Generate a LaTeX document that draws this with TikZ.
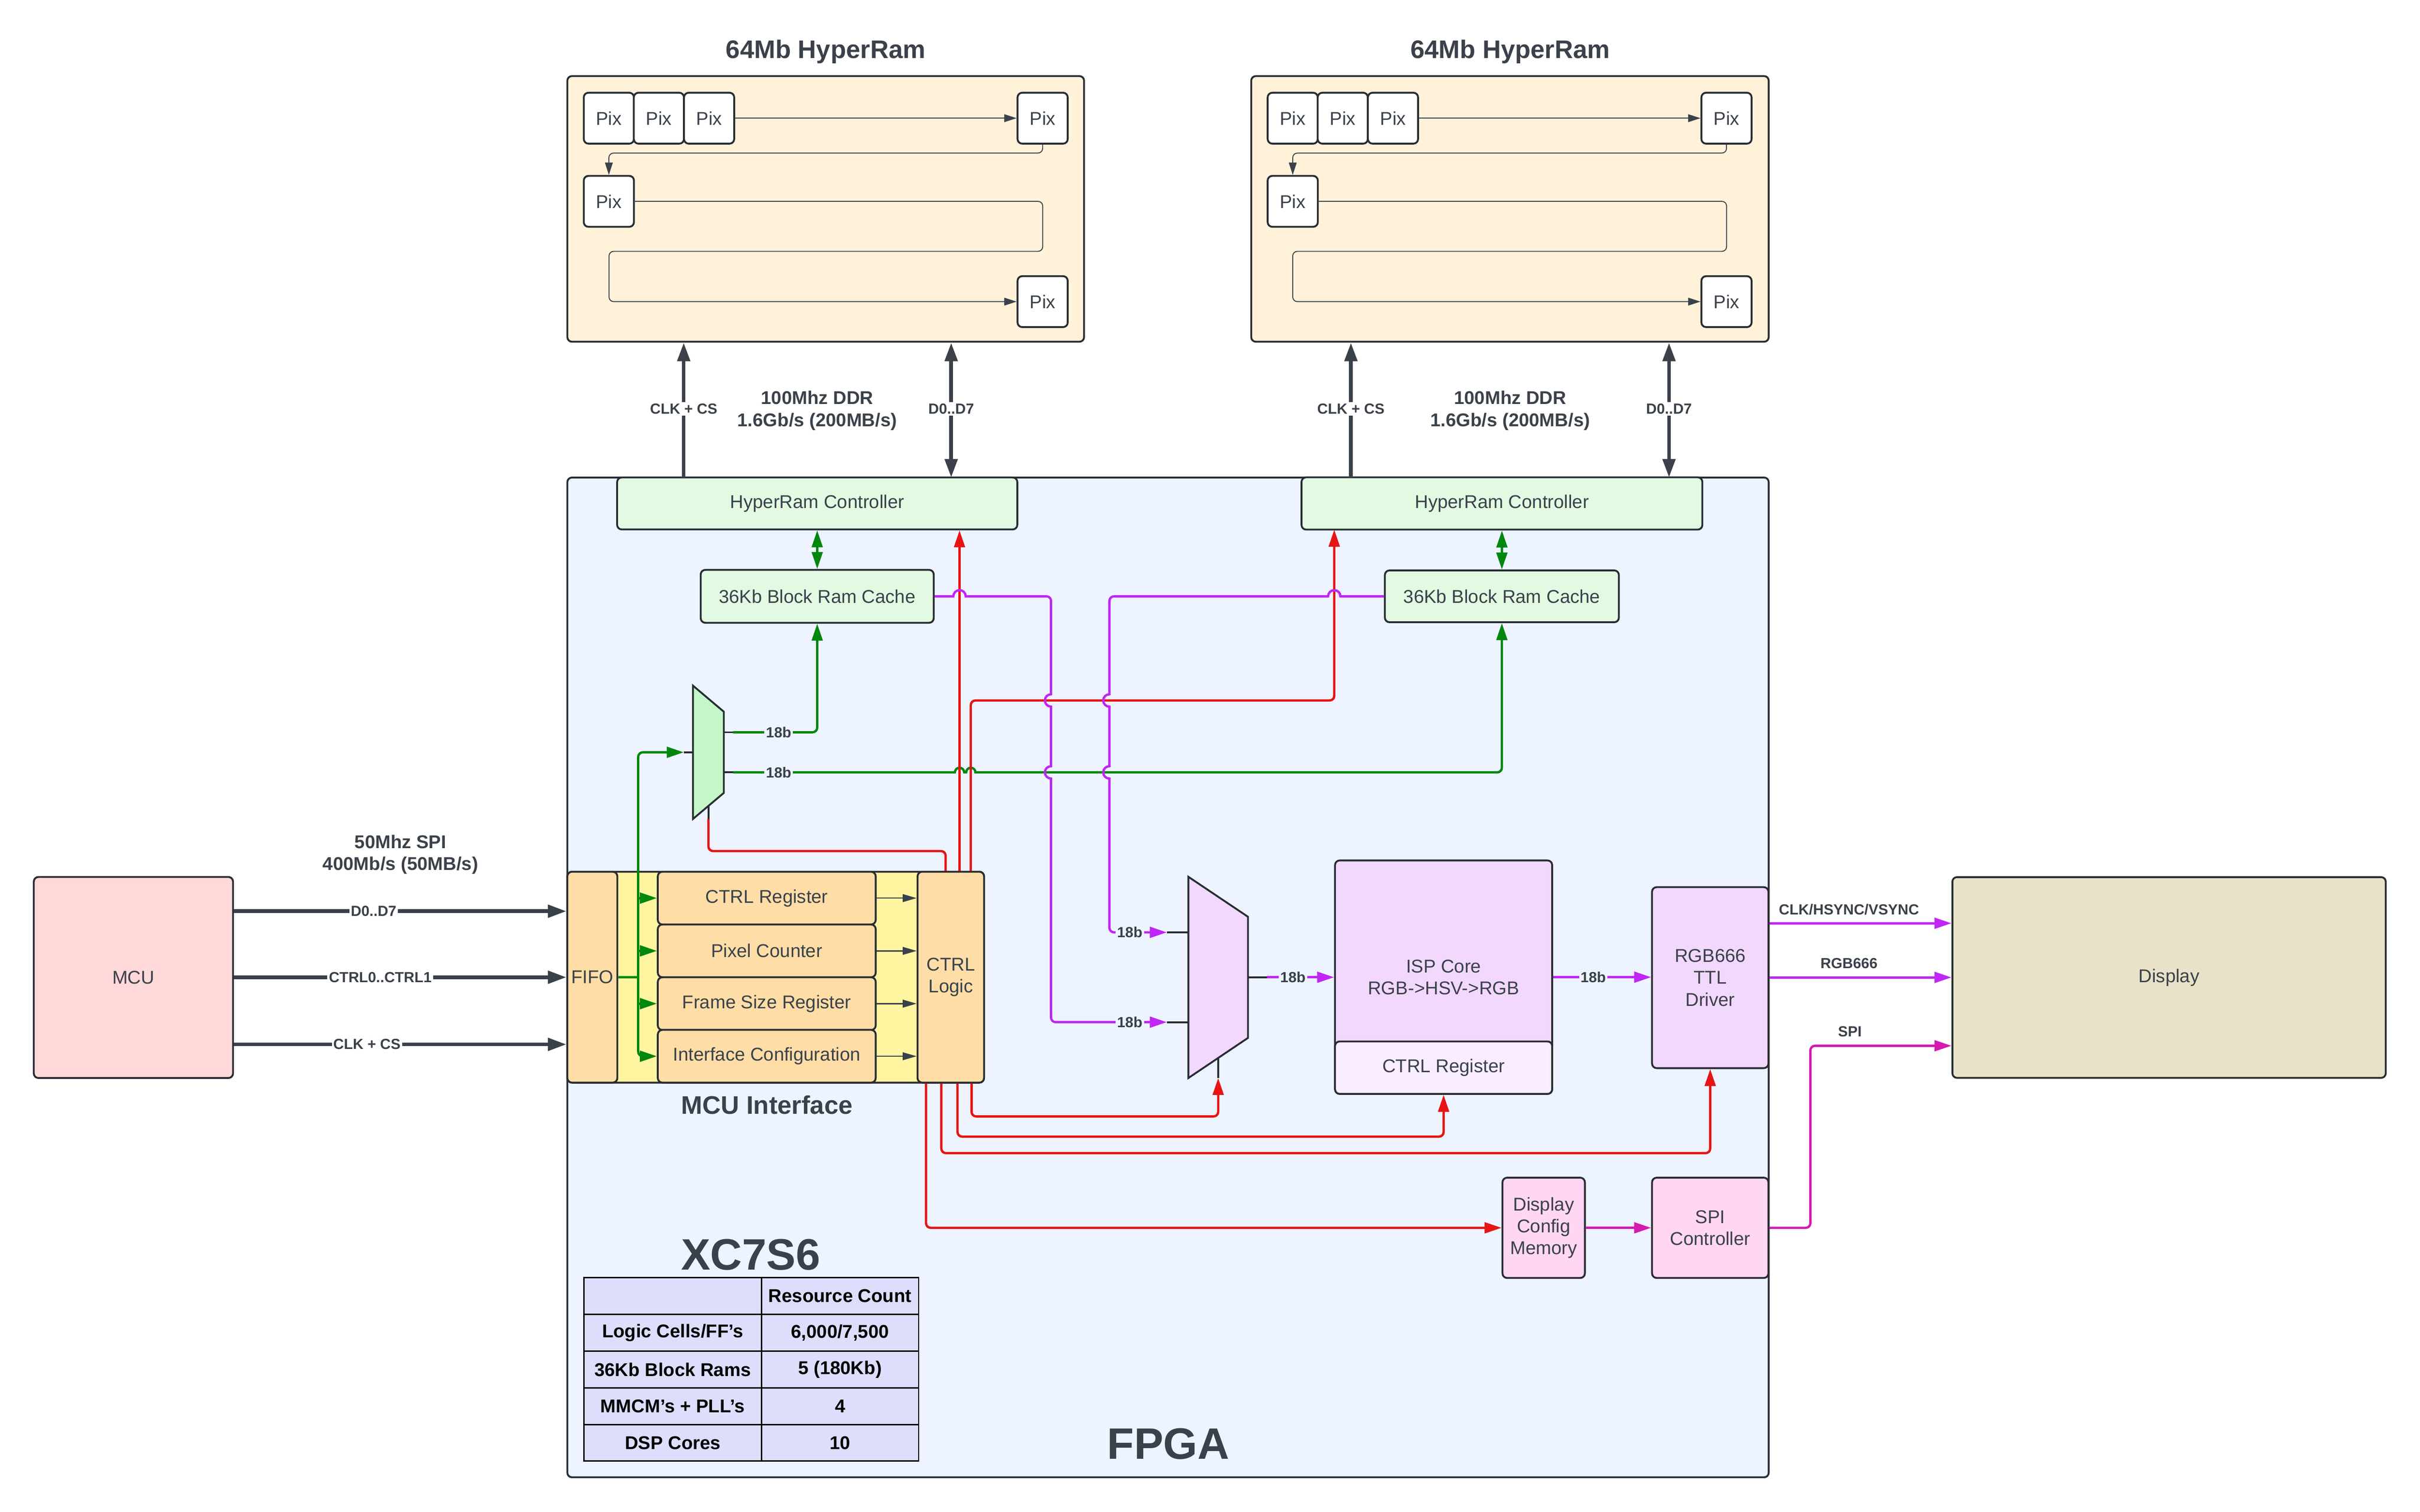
\documentclass[tikz,border=0pt]{standalone}
\usepackage{fontspec}
\setmainfont{Liberation Sans}
\usetikzlibrary{arrows.meta}

\definecolor{txt}{RGB}{58,65,74}
\definecolor{edge}{RGB}{40,44,52}
\definecolor{hrbg}{RGB}{255,242,217}
\definecolor{fpgabg}{RGB}{237,244,255}
\definecolor{grnbox}{RGB}{226,250,226}
\definecolor{grnmux}{RGB}{195,247,200}
\definecolor{ylwbg}{RGB}{255,245,160}
\definecolor{orgbox}{RGB}{254,221,166}
\definecolor{mcubg}{RGB}{255,216,218}
\definecolor{dispbg}{RGB}{231,226,200}
\definecolor{lav}{RGB}{242,216,253}
\definecolor{lavlt}{RGB}{249,237,255}
\definecolor{pinkbox}{RGB}{255,214,244}
\definecolor{tblbg}{RGB}{220,222,252}
\definecolor{wred}{RGB}{232,19,19}
\definecolor{wgrn}{RGB}{0,135,14}
\definecolor{wpurp}{RGB}{192,38,245}
\definecolor{wmag}{RGB}{214,26,176}

\tikzset{every picture/.style={line width=0.75pt}}
\tikzset{
  blk/.style={draw=edge, line width=1.2pt, rounded corners=3pt, text=txt, font=\fontsize{12}{14.2}\selectfont, align=center, inner sep=0pt},
  pixbox/.style={blk, fill=white, minimum width=32.5pt, minimum height=33pt},
  lbl/.style={text=txt, font=\bfseries\fontsize{9.5}{11}\selectfont, inner sep=1pt},
  heading/.style={text=txt, font=\bfseries\fontsize{16.5}{19}\selectfont},
  bigheading/.style={text=txt, font=\bfseries\fontsize{28.5}{34}\selectfont},
  note/.style={text=txt, font=\bfseries\fontsize{12}{14.3}\selectfont, align=center},
  tbltxt/.style={text=black, font=\bfseries\fontsize{12}{14}\selectfont},
  bus/.style={draw=txt, line width=2.4pt},
  busarr/.style={bus, -{Triangle[length=12pt,width=8pt]}},
  busdbl/.style={bus, {Triangle[length=12pt,width=8pt]}-{Triangle[length=12pt,width=8pt]}},
  thinarr/.style={draw=txt, line width=0.6pt, rounded corners=3pt, -{Triangle[length=8pt,width=5pt]}},
  regarr/.style={draw=txt, line width=0.8pt, -{Triangle[length=9pt,width=5pt]}},
  sig/.style={line width=1.5pt, rounded corners=3pt},
  sigarr/.style={sig, -{Triangle[length=11pt,width=7pt]}},
  sigdbl/.style={sig, {Triangle[length=11pt,width=7pt]}-{Triangle[length=11pt,width=7pt]}},
  stub/.style={draw=edge, line width=1.2pt},
}

\begin{document}
\begin{tikzpicture}[x=1pt,y=1pt,yscale=-1,xscale=1]
\useasboundingbox (0,0) rectangle (1568,979.8);

%HyperRam A
\node[blk, fill=hrbg, minimum width=334.8pt, minimum height=172.2pt] (hramA) at (535,135.4) {};
\node[heading] (hramA-title) at (535,33.4) {64Mb HyperRam};
\node[pixbox] (pixA1) at (394.5,76.6) {Pix};
\node[pixbox] (pixA2) at (426.9,76.6) {Pix};
\node[pixbox] (pixA3) at (459.45,76.6) {Pix};
\node[pixbox] (pixA4) at (675.55,76.6) {Pix};
\node[pixbox] (pixA5) at (394.5,130.5) {Pix};
\node[pixbox] (pixA6) at (675.55,195.5) {Pix};
\draw[thinarr] (pixA3.east) -- (pixA4.west);
\draw[thinarr] (pixA4.south) -- ++(0,5.5) -| (pixA5.north);
\draw[thinarr] (pixA5.east) -| (675.6,162.9) -| (394.6,195.5) -- (pixA6.west);

%HyperRam B
\node[blk, fill=hrbg, minimum width=335.3pt, minimum height=172.2pt] (hramB) at (978.35,135.4) {};
\node[heading] (hramB-title) at (978.5,33.4) {64Mb HyperRam};
\node[pixbox] (pixB1) at (837.6,76.6) {Pix};
\node[pixbox] (pixB2) at (870,76.6) {Pix};
\node[pixbox] (pixB3) at (902.55,76.6) {Pix};
\node[pixbox] (pixB4) at (1118.65,76.6) {Pix};
\node[pixbox] (pixB5) at (837.6,130.5) {Pix};
\node[pixbox] (pixB6) at (1118.65,195.5) {Pix};
\draw[thinarr] (pixB3.east) -- (pixB4.west);
\draw[thinarr] (pixB4.south) -- ++(0,5.5) -| (pixB5.north);
\draw[thinarr] (pixB5.east) -| (1118.7,162.9) -| (837.6,195.5) -- (pixB6.west);

%FPGA
\node[blk, fill=fpgabg, minimum width=778.4pt, minimum height=648pt] (fpga) at (756.8,633.5) {};
\node[bigheading] (fpga-name) at (486.4,813.2) {XC7S6};
\node[bigheading] (fpga-title) at (757,935.8) {FPGA};

%Controllers and caches
\node[blk, fill=grnbox, minimum width=259.3pt, minimum height=33.7pt] (hramctrlA) at (529.5,326.3) {HyperRam Controller};
\node[blk, fill=grnbox, minimum width=151pt, minimum height=34.3pt] (cacheA) at (529.5,386.5) {36Kb Block Ram Cache};
\node[blk, fill=grnbox, minimum width=259.7pt, minimum height=33.9pt] (hramctrlB) at (973.15,326.3) {HyperRam Controller};
\node[blk, fill=grnbox, minimum width=151.6pt, minimum height=33.6pt] (cacheB) at (973.1,386.5) {36Kb Block Ram Cache};

%HyperRam buses
\coordinate (clkA) at (443,309.5);
\coordinate (datA) at (616.3,309.5);
\coordinate (clkB) at (875.3,309.5);
\coordinate (datB) at (1081.4,309.5);
\draw[busarr] (clkA) -- (clkA |- hramA.south) node[lbl, fill=white, pos=.51] {CLK + CS};
\draw[busdbl] (datA) -- (datA |- hramA.south) node[lbl, fill=white, pos=.51] {D0..D7};
\draw[busarr] (clkB) -- (clkB |- hramB.south) node[lbl, fill=white, pos=.51] {CLK + CS};
\draw[busdbl] (datB) -- (datB |- hramB.south) node[lbl, fill=white, pos=.51] {D0..D7};
\node[note] (rateA) at (529.5,266.1) {100Mhz DDR\\1.6Gb/s (200MB/s)};
\node[note] (rateB) at (978.5,266.1) {100Mhz DDR\\1.6Gb/s (200MB/s)};

%MCU interface
\node[blk, fill=ylwbg, minimum width=270pt, minimum height=136.7pt] (mcuif) at (502.6,633.35) {};
\node[blk, fill=orgbox, minimum width=32.4pt, minimum height=136.7pt] (fifo) at (383.8,633.35) {FIFO};
\node[blk, fill=orgbox, minimum width=141.2pt, minimum height=34.2pt] (regA) at (496.8,582.1) {CTRL Register};
\node[blk, fill=orgbox, minimum width=141.2pt, minimum height=34.2pt] (regB) at (496.8,616.3) {Pixel Counter};
\node[blk, fill=orgbox, minimum width=141.2pt, minimum height=34.2pt] (regC) at (496.8,650.5) {Frame Size Register};
\node[blk, fill=orgbox, minimum width=141.2pt, minimum height=34.2pt] (regD) at (496.8,684.6) {Interface Configuration};
\node[blk, fill=orgbox, minimum width=43.1pt, minimum height=136.7pt] (ctrllogic) at (616.05,633.35) {CTRL\\Logic};
\node[heading] (mcuif-title) at (497,716) {MCU Interface};
\draw[regarr] (regA.east) -- (regA.east -| ctrllogic.west);
\draw[regarr] (regB.east) -- (regB.east -| ctrllogic.west);
\draw[regarr] (regC.east) -- (regC.east -| ctrllogic.west);
\draw[regarr] (regD.east) -- (regD.east -| ctrllogic.west);

%Muxes
\draw[stub, fill=grnmux] (449,444.4) -- (469,461.3) -- (469,513.9) -- (449,530.8) -- cycle;
\coordinate (muxA-in) at (449,487.6);
\coordinate (muxA-pin) at (443,487.6);
\coordinate (muxA-out1) at (469,474.6);
\coordinate (muxA-out2) at (469,500.6);
\coordinate (muxA-selb) at (459,522.35);
\coordinate (muxA-sel) at (459,530.8);
\draw[stub, fill=lav] (770,568.3) -- (808.6,594.2) -- (808.6,672.7) -- (770,698.7) -- cycle;
\coordinate (muxB-in1) at (770,604.3);
\coordinate (muxB-in2) at (770,662.5);
\coordinate (muxB-pin1) at (756,604.3);
\coordinate (muxB-pin2) at (756,662.5);
\coordinate (muxB-out) at (808.6,633.4);
\coordinate (muxB-selb) at (789.3,685.7);
\coordinate (muxB-sel) at (789.3,698.7);
\draw[stub] (muxA-pin) -- (muxA-in);
\draw[stub] (muxA-out1) -- ++(6,0);
\draw[stub] (muxA-out2) -- ++(6,0);
\draw[stub] (muxA-selb) -- (muxA-sel);
\draw[stub] (muxB-pin1) -- (muxB-in1);
\draw[stub] (muxB-pin2) -- (muxB-in2);
\draw[stub] (muxB-out) -- ++(12.4,0);
\draw[stub] (muxB-selb) -- (muxB-sel);

%Pipeline blocks
\node[blk, fill=lav, minimum width=140.7pt, minimum height=151.3pt] (ispcore) at (935.35,633.35) {ISP Core\\RGB->HSV->RGB};
\node[blk, fill=lavlt, minimum width=140.7pt, minimum height=34pt] (ispreg) at (935.35,692) {CTRL Register};
\node[blk, fill=lav, minimum width=75.4pt, minimum height=117.3pt] (rgbdrv) at (1108.1,633.65) {RGB666\\TTL\\Driver};
\node[blk, fill=pinkbox, minimum width=53.4pt, minimum height=65pt] (dcm) at (1000.2,795.8) {Display\\Config\\Memory};
\node[blk, fill=pinkbox, minimum width=75.4pt, minimum height=65pt] (spictrl) at (1108.1,795.8) {SPI\\Controller};

%MCU and Display
\node[blk, fill=mcubg, minimum width=129.1pt, minimum height=130.3pt] (mcu) at (86.45,633.55) {MCU};
\node[blk, fill=dispbg, minimum width=280.8pt, minimum height=130.1pt] (display) at (1405.4,633.55) {Display};
\node[note] (spirate) at (259.5,553.8) {50Mhz SPI\\400Mb/s (50MB/s)};
\draw[busarr] (mcu.east |- 0,590.6) -- (fifo.west |- 0,590.6) node[lbl, fill=white, pos=.42] {D0..D7};
\draw[busarr] (mcu.east |- 0,633.4) -- (fifo.west |- 0,633.4) node[lbl, fill=white, pos=.44] {CTRL0..CTRL1};
\draw[busarr] (mcu.east |- 0,676.9) -- (fifo.west |- 0,676.9) node[lbl, fill=white, pos=.4] {CLK + CS};

%Green lines
\coordinate (feed) at (413.5,633.4);
\draw[sig, wgrn] (fifo.east) -- (feed);
\draw[sigarr, wgrn] (feed) |- (muxA-pin);
\draw[sigarr, wgrn] (feed) |- (regD.west);
\draw[sigarr, wgrn] (regA.west -| feed) -- (regA.west);
\draw[sigarr, wgrn] (regB.west -| feed) -- (regB.west);
\draw[sigarr, wgrn] (regC.west -| feed) -- (regC.west);
\draw[sigdbl, wgrn] (hramctrlA.south) -- (cacheA.north);
\draw[sigdbl, wgrn] (hramctrlB.south) -- (cacheB.north);
\draw[sigarr, wgrn] ([xshift=6pt]muxA-out1) -| (cacheA.south);
\draw[sigarr, wgrn, sharp corners] ([xshift=6pt]muxA-out2) -- (618.7,500.6) arc[start angle=180,end angle=360,radius=3] -- (626,500.6) arc[start angle=180,end angle=360,radius=3] -- (900,500.6) [rounded corners=3pt] -- (cacheB.south |- 0,500.6) -- (cacheB.south);

%Red lines
\coordinate (ctrlB-en) at (864.5,343.3);
\draw[sig, wred] ([xshift=-3.35pt]ctrllogic.north) -- ++(0,-12.8) -| (muxA-sel);
\draw[sigarr, wred] ([xshift=5.65pt]ctrllogic.north) -- ([xshift=5.65pt]ctrllogic.north |- hramctrlA.south);
\draw[sigarr, wred] ([xshift=12.95pt]ctrllogic.north) |- (ctrlB-en |- 0,454) -- (ctrlB-en);
\draw[sigarr, wred] ([xshift=13.45pt]ctrllogic.south) |- (muxB-sel |- 0,723.6) -- (muxB-sel);
\draw[sigarr, wred] ([xshift=4.35pt]ctrllogic.south) -- ++(0,34.4) -| (ispreg.south);
\draw[sigarr, wred] ([xshift=-6.15pt]ctrllogic.south) -- ++(0,45.1) -| (rgbdrv.south);
\draw[sigarr, wred] ([xshift=-16.05pt]ctrllogic.south) |- (dcm.west);

%Purple lines
\draw[sigarr, wpurp, sharp corners] (cacheA.east) -- (617.7,386.5) arc[start angle=180,end angle=360,radius=4] -- (660,386.5) [rounded corners=3pt] -- (681,386.5) -- (681,420) [sharp corners] -- (681,450) arc[start angle=270,end angle=90,radius=4] -- (681,496.6) arc[start angle=270,end angle=90,radius=4] -- (681,600) [rounded corners=3pt] |- (muxB-pin2);
\draw[sigarr, wpurp, sharp corners] (cacheB.west) -- (868.5,386.5) arc[start angle=0,end angle=-180,radius=4] -- (740,386.5) [rounded corners=3pt] -- (718.8,386.5) -- (718.8,420) [sharp corners] -- (718.8,450) arc[start angle=270,end angle=90,radius=4] -- (718.8,496.6) arc[start angle=270,end angle=90,radius=4] -- (718.8,560) [rounded corners=3pt] |- (muxB-pin1);
\draw[sigarr, wpurp] ([xshift=12.4pt]muxB-out) -- (muxB-out -| ispcore.west);
\draw[sigarr, wpurp] (ispcore.east) -- (ispcore.east -| rgbdrv.west);
\draw[sigarr, wpurp] (rgbdrv.east |- 0,598.4) -- (display.west |- 0,598.4);
\draw[sigarr, wpurp] (rgbdrv.east |- 0,633.5) -- (display.west |- 0,633.5);
\draw[sigarr, wmag] (dcm.east) -- (spictrl.west);
\draw[sigarr, wmag] (spictrl.east) -- (1173,795.8) |- (display.west |- 0,677.8);

% Text Node
\node[lbl, fill=fpgabg] (busA1) at (504.5,474.6) {18b};
\node[lbl, fill=fpgabg] (busA2) at (504.5,500.6) {18b};
\node[lbl, fill=fpgabg] (busB1) at (732,604.3) {18b};
\node[lbl, fill=fpgabg] (busB2) at (732,662.5) {18b};
\node[lbl, fill=fpgabg] (busB3) at (837.7,633.4) {18b};
\node[lbl, fill=fpgabg] (busB4) at (1032.3,633.4) {18b};
\node[lbl] (sync) at (1198,589.4) {CLK/HSYNC/VSYNC};
\node[lbl] (rgbbus) at (1198,624.3) {RGB666};
\node[lbl] (spibus) at (1198.6,668.7) {SPI};

%Resource table
\filldraw[fill=tblbg, draw=black, line width=0.9pt] (378.4,828.1) rectangle (595.2,947);
\draw[black, line width=0.9pt] (493.4,828.1) -- (493.4,947);
\draw[black, line width=0.9pt] (378.4,852) -- (595.2,852);
\draw[black, line width=0.9pt] (378.4,875.7) -- (595.2,875.7);
\draw[black, line width=0.9pt] (378.4,899.5) -- (595.2,899.5);
\draw[black, line width=0.9pt] (378.4,923.3) -- (595.2,923.3);
\node[tbltxt] (tblhead) at (544.3,840) {Resource Count};
\node[tbltxt] (tblA) at (435.9,863.9) {Logic Cells/FF's};
\node[tbltxt] (tblAv) at (544.3,863.9) {6,000/7,500};
\node[tbltxt] (tblB) at (435.9,887.6) {36Kb Block Rams};
\node[tbltxt] (tblBv) at (544.3,887.6) {5 (180Kb)};
\node[tbltxt] (tblC) at (435.9,911.4) {MMCM's + PLL's};
\node[tbltxt] (tblCv) at (544.3,911.4) {4};
\node[tbltxt] (tblD) at (435.9,935.2) {DSP Cores};
\node[tbltxt] (tblDv) at (544.3,935.2) {10};

\end{tikzpicture}
\end{document}
